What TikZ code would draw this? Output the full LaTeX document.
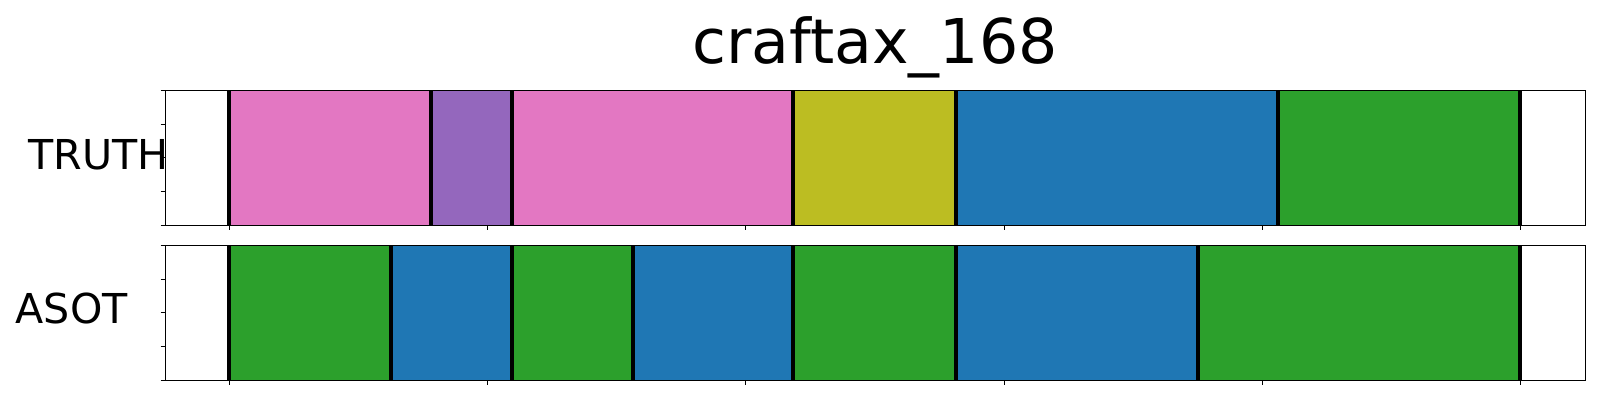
\documentclass[tikz,border=0pt]{standalone}
\usepackage{fontspec}
\setmainfont{DejaVu Sans}
\usepackage{tikz}

\begin{document}
\begin{tikzpicture}[x=0.75pt,y=0.75pt,yscale=-1,
  seg/.style={draw=none},
  sep/.style={line width=3pt,color=black},
  frame/.style={line width=0.8pt},
  tick/.style={line width=0.8pt}]
\useasboundingbox (0,0) rectangle (1600,400); %set diagram to 1600 x 400

%Shape: Rectangle TRUTH segments
\fill [seg,fill={rgb, 255:red, 227; green, 119; blue, 194 }] (229,90.3) -- (430.7,90.3) -- (430.7,225.3) -- (229,225.3) -- cycle ;
\fill [seg,fill={rgb, 255:red, 148; green, 103; blue, 189 }] (430.7,90.3) -- (512,90.3) -- (512,225.3) -- (430.7,225.3) -- cycle ;
\fill [seg,fill={rgb, 255:red, 227; green, 119; blue, 194 }] (512,90.3) -- (793.3,90.3) -- (793.3,225.3) -- (512,225.3) -- cycle ;
\fill [seg,fill={rgb, 255:red, 188; green, 189; blue, 34 }] (793.3,90.3) -- (956,90.3) -- (956,225.3) -- (793.3,225.3) -- cycle ;
\fill [seg,fill={rgb, 255:red, 31; green, 119; blue, 180 }] (956,90.3) -- (1277.7,90.3) -- (1277.7,225.3) -- (956,225.3) -- cycle ;
\fill [seg,fill={rgb, 255:red, 44; green, 160; blue, 44 }] (1277.7,90.3) -- (1520,90.3) -- (1520,225.3) -- (1277.7,225.3) -- cycle ;
%Shape: Rectangle ASOT segments
\fill [seg,fill={rgb, 255:red, 44; green, 160; blue, 44 }] (229,245.3) -- (390.7,245.3) -- (390.7,380.3) -- (229,380.3) -- cycle ;
\fill [seg,fill={rgb, 255:red, 31; green, 119; blue, 180 }] (390.7,245.3) -- (512,245.3) -- (512,380.3) -- (390.7,380.3) -- cycle ;
\fill [seg,fill={rgb, 255:red, 44; green, 160; blue, 44 }] (512,245.3) -- (632.7,245.3) -- (632.7,380.3) -- (512,380.3) -- cycle ;
\fill [seg,fill={rgb, 255:red, 31; green, 119; blue, 180 }] (632.7,245.3) -- (793.3,245.3) -- (793.3,380.3) -- (632.7,380.3) -- cycle ;
\fill [seg,fill={rgb, 255:red, 44; green, 160; blue, 44 }] (793.3,245.3) -- (956,245.3) -- (956,380.3) -- (793.3,380.3) -- cycle ;
\fill [seg,fill={rgb, 255:red, 31; green, 119; blue, 180 }] (956,245.3) -- (1197.7,245.3) -- (1197.7,380.3) -- (956,380.3) -- cycle ;
\fill [seg,fill={rgb, 255:red, 44; green, 160; blue, 44 }] (1197.7,245.3) -- (1520,245.3) -- (1520,380.3) -- (1197.7,380.3) -- cycle ;

%Straight Lines TRUTH boundaries
\draw [sep] (229,90.3) -- (229,225.3) ;
\draw [sep] (430.7,90.3) -- (430.7,225.3) ;
\draw [sep] (512,90.3) -- (512,225.3) ;
\draw [sep] (793.3,90.3) -- (793.3,225.3) ;
\draw [sep] (956,90.3) -- (956,225.3) ;
\draw [sep] (1277.7,90.3) -- (1277.7,225.3) ;
\draw [sep] (1520,90.3) -- (1520,225.3) ;
%Straight Lines ASOT boundaries
\draw [sep] (229,245.3) -- (229,380.3) ;
\draw [sep] (390.7,245.3) -- (390.7,380.3) ;
\draw [sep] (512,245.3) -- (512,380.3) ;
\draw [sep] (632.7,245.3) -- (632.7,380.3) ;
\draw [sep] (793.3,245.3) -- (793.3,380.3) ;
\draw [sep] (956,245.3) -- (956,380.3) ;
\draw [sep] (1197.7,245.3) -- (1197.7,380.3) ;
\draw [sep] (1520,245.3) -- (1520,380.3) ;

%Shape: Rectangle frames
\draw [frame] (165.3,90.3) -- (1585.7,90.3) -- (1585.7,225.3) -- (165.3,225.3) -- cycle ;
\draw [frame] (165.3,245.3) -- (1585.7,245.3) -- (1585.7,380.3) -- (165.3,380.3) -- cycle ;

%Straight Lines y ticks
\foreach \ty in {90.3,124.05,157.8,191.55,225.3,245.3,279.05,312.8,346.55,380.3}
  \draw [tick] (160.6,\ty) -- (165.3,\ty) ;
%Straight Lines x ticks
\foreach \tx in {229.3,487.6,745.9,1004.2,1262.5,1520.8} {
  \draw [tick] (\tx,225.3) -- (\tx,230) ;
  \draw [tick] (\tx,380.3) -- (\tx,385) ;
}

% Text Node
\node (title) at (875,63.3) [anchor=base][inner sep=0pt] {\fontsize{46.3}{50}\selectfont craftax\_168};
% Text Node
\node (truth) at (28,169.3) [anchor=base west][inner sep=0pt] {\fontsize{30.9}{34}\selectfont TRUTH};
% Text Node
\node (asot) at (15.5,323.3) [anchor=base west][inner sep=0pt] {\fontsize{30.9}{34}\selectfont ASOT};
\end{tikzpicture}
\end{document}
